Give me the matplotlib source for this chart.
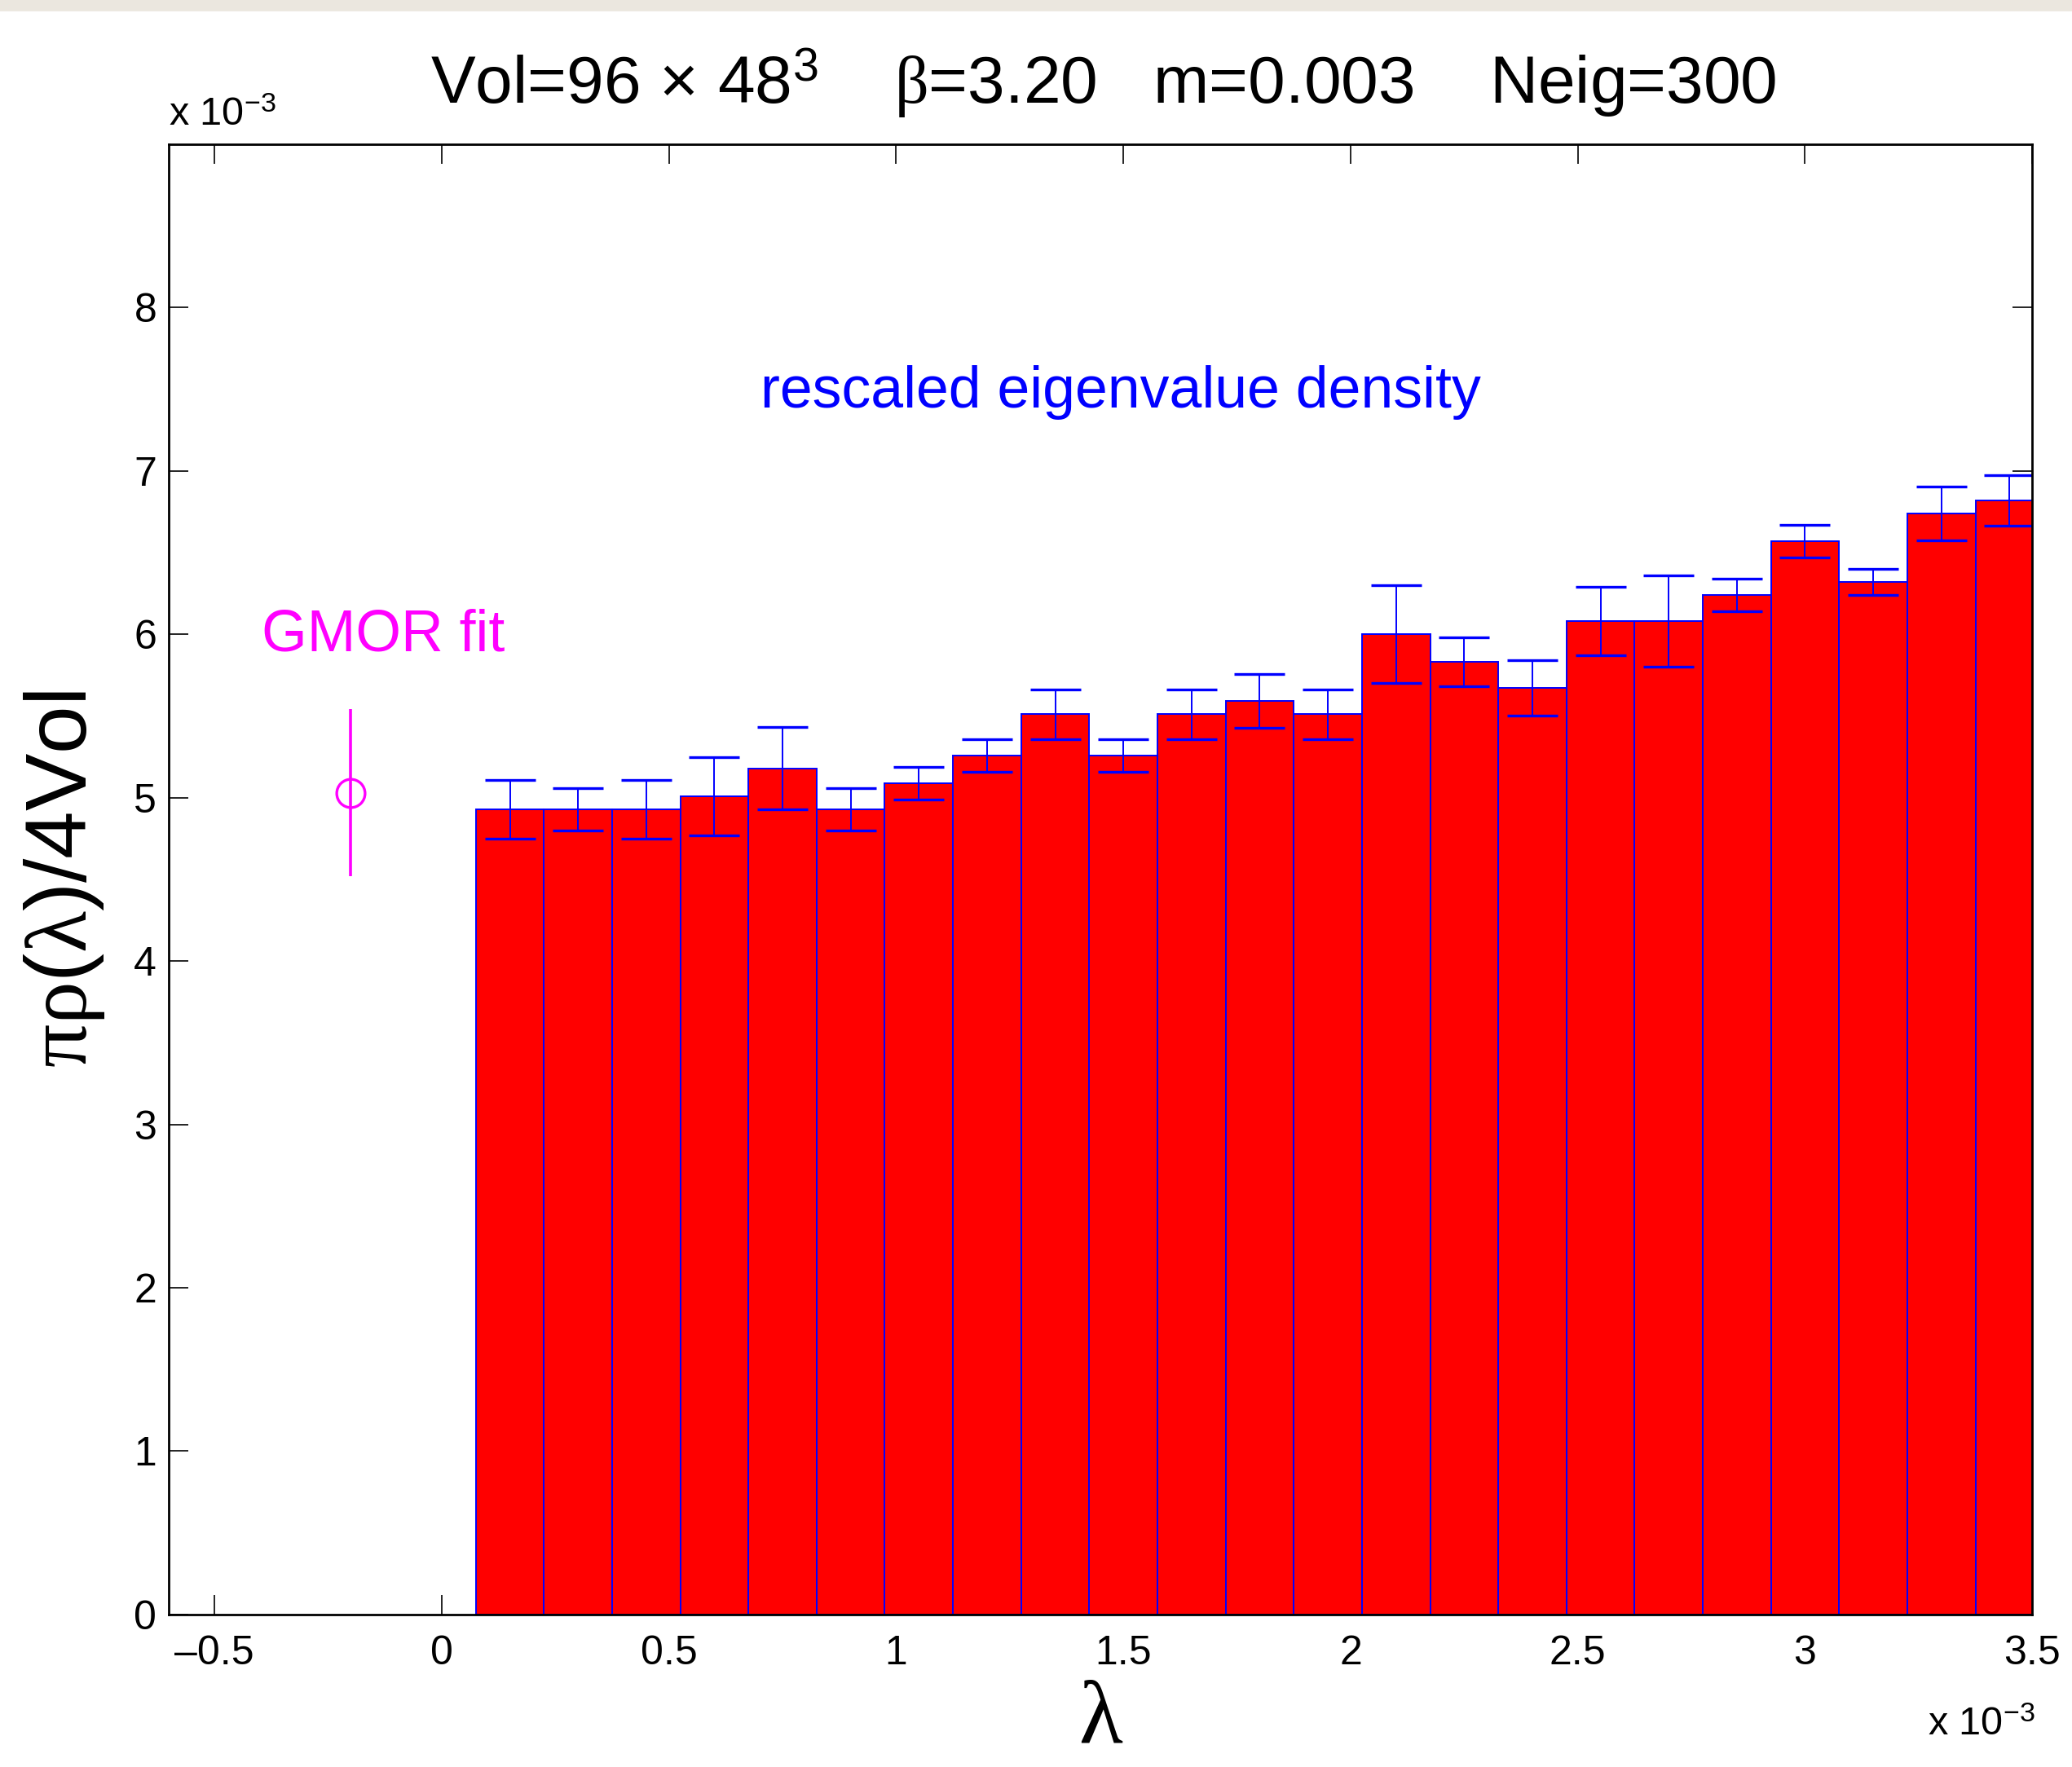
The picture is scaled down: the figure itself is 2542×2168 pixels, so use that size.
import matplotlib
matplotlib.use("Agg")
import matplotlib.pyplot as plt
from matplotlib.patches import Rectangle
from matplotlib.ticker import FixedLocator, FuncFormatter

plt.rcParams["font.family"] = ["Liberation Sans", "DejaVu Sans"]
plt.rcParams["mathtext.fontset"] = "custom"
plt.rcParams["mathtext.rm"] = "Liberation Sans"
plt.rcParams["mathtext.it"] = "Liberation Serif"
plt.rcParams["mathtext.bf"] = "Liberation Sans:bold"

# Eigenvalue bins (units of 1e-3) and rescaled density (units of 1e-3)
SCALE = 1e-3
lambda_centers = [0.15, 0.30, 0.45, 0.60, 0.75, 0.90, 1.05, 1.20, 1.35, 1.50,
                  1.65, 1.80, 1.95, 2.10, 2.25, 2.40, 2.55, 2.70, 2.85, 3.00,
                  3.15, 3.30, 3.45]
bin_width = 0.15
density = [4.93, 4.93, 4.93, 5.01, 5.18, 4.93, 5.09, 5.26, 5.51, 5.26,
           5.51, 5.59, 5.51, 6.00, 5.83, 5.67, 6.08, 6.08, 6.24, 6.57,
           6.32, 6.74, 6.82]
density_err = [0.18, 0.13, 0.18, 0.24, 0.25, 0.13, 0.10, 0.10, 0.15, 0.10,
               0.15, 0.165, 0.15, 0.30, 0.15, 0.17, 0.21, 0.28, 0.10, 0.10,
               0.08, 0.165, 0.155]

# GMOR estimate shown at a negative lambda for comparison
gmor_x = [-0.20]
gmor_y = [5.03]
gmor_err = [0.51]

x_ticks = [-0.5, 0, 0.5, 1, 1.5, 2, 2.5, 3, 3.5]
y_ticks = [0, 1, 2, 3, 4, 5, 6, 7, 8]

fig = plt.figure(figsize=(12.71, 10.84), dpi=200)
ax = fig.add_axes([0.0816, 0.0863, 0.8992, 0.8321])

xs = [v * SCALE for v in lambda_centers]
ys = [v * SCALE for v in density]
es = [v * SCALE for v in density_err]

ax.bar(xs, ys, width=bin_width * SCALE, align="center", color="#ff0000",
       edgecolor="#0000ff", linewidth=0.7, zorder=2)
ax.errorbar(xs, ys, yerr=es, fmt="none", ecolor="#0000ff", elinewidth=0.7,
            capsize=11.3, capthick=1.2, zorder=3)

ax.errorbar([v * SCALE for v in gmor_x], [v * SCALE for v in gmor_y],
            yerr=[v * SCALE for v in gmor_err], fmt="o", mfc="none",
            mec="#ff00ff", ms=12.5, mew=1.2, ecolor="#ff00ff",
            elinewidth=1.3, capsize=0, zorder=3)

ax.set_xlim(-0.6 * SCALE, 3.5 * SCALE)
ax.set_ylim(0, 9 * SCALE)

fmt = FuncFormatter(lambda v, p: ("%g" % round(v / SCALE, 6)).replace("-", "\u2013"))
ax.xaxis.set_major_locator(FixedLocator([t * SCALE for t in x_ticks]))
ax.yaxis.set_major_locator(FixedLocator([t * SCALE for t in y_ticks]))
ax.xaxis.set_major_formatter(fmt)
ax.yaxis.set_major_formatter(fmt)
ax.tick_params(direction="in", top=True, right=True, length=8.7, width=0.6,
               labelsize=18)
ax.tick_params(axis="x", pad=9)
ax.tick_params(axis="y", pad=5.5)
for s in ax.spines.values():
    s.set_linewidth(1.0)
    s.set_zorder(4)

ax.text(1.494 * SCALE, 7.48 * SCALE, "rescaled eigenvalue density",
        color="#0000ff", fontsize=25.8, ha="center", va="center")
ax.text(-0.129 * SCALE, 5.99 * SCALE, "GMOR fit", color="#ff00ff",
        fontsize=25.8, ha="center", va="center")

ax.set_xlabel(r"$\lambda$", fontsize=40, labelpad=2)
ax.set_ylabel(r"$\pi\rho\mathrm{(}\lambda\mathrm{)/4Vol}$", fontsize=38,
              labelpad=12)

fig.text(0.5326, 0.9417,
         r"Vol=96$\,\times\,$48$^{3}$    $\beta$=3.20   m=0.003    Neig=300",
         fontsize=29.5, ha="center", va="baseline")

fig.text(0.0816, 0.929, r"x 10$^{\mathrm{-3}}$", fontsize=17.5, ha="left",
         va="baseline")
fig.text(0.982, 0.018, r"x 10$^{\mathrm{-3}}$", fontsize=17.5, ha="right",
         va="baseline")

fig.add_artist(Rectangle((0, 0.9945), 1, 0.0055, transform=fig.transFigure,
                         color="#ebe7df", zorder=0))

fig.savefig("out.png", dpi=200)
